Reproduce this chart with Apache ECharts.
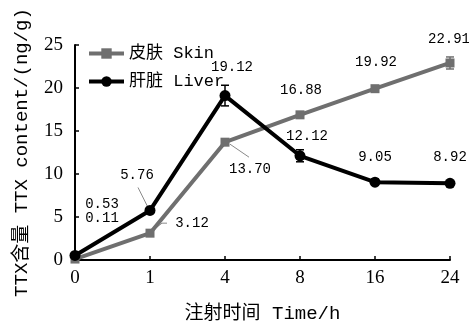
<!DOCTYPE html>
<html>
<head>
<meta charset="utf-8">
<script src="https://cdn.jsdelivr.net/npm/echarts@6/dist/echarts.min.js"></script>
<style>
html,body{margin:0;padding:0;background:#fff;}
#chart{width:469px;height:328px;}
</style>
</head>
<body>
<div id="chart"></div>
<script>
// ---- data ----
const categories = ['0', '1', '4', '8', '16', '24'];
const skinValues = [0.11, 3.12, 13.70, 16.88, 19.92, 22.91];
const liverValues = [0.53, 5.76, 19.12, 12.12, 9.05, 8.92];
const skinErrors = [0, 0, 0, 0, 0, 0.7];
const liverErrors = [0, 0, 1.2, 0.7, 0.35, 0];
const yMin = 0, yMax = 25, yStep = 5;
const seriesNames = ['皮肤 Skin', '肝脏 Liver'];

// ---- layout (pixel offsets of value labels from their points) ----
const skinLabelOffsets = [[27, -41], [42, -10], [25, 27], [1, -25], [1, -26], [-1, -24]];
const liverLabelOffsets = [[27, -51], [-13, -35], [7, -28], [7, -19], [0, -25], [0, -26]];
// leader lines: [series, index, [[dx,dy],...]]
const leaders = [
  [1, 1, [[-2, -3], [-12, -23]]],
  [0, 1, [[3, -3], [12, -10], [17, -10]]],
  [0, 2, [[5, 2], [24, 15]]]
];

const GRAY = '#6f6f6f';
const BLACK = '#000000';
const MONO = '"Liberation Mono", "Noto Sans CJK SC", monospace';
const SERIF = '"Liberation Serif", "Noto Sans CJK SC", serif';

const chart = echarts.init(document.getElementById('chart'));

function errSeries(values, errors, color) {
  return {
    type: 'custom',
    silent: true,
    z: 3,
    data: values.map((v, i) => [i, v, errors[i]]),
    renderItem: function (params, api) {
      const i = api.value(0), v = api.value(1), e = api.value(2);
      if (!e) return null;
      const top = api.coord([i, v + e]);
      const bot = api.coord([i, v - e]);
      const w = 4;
      const st = { stroke: color, lineWidth: 1.5 };
      return {
        type: 'group',
        children: [
          { type: 'line', shape: { x1: top[0], y1: top[1], x2: bot[0], y2: bot[1] }, style: st },
          { type: 'line', shape: { x1: top[0] - w, y1: top[1], x2: top[0] + w, y2: top[1] }, style: st },
          { type: 'line', shape: { x1: bot[0] - w, y1: bot[1], x2: bot[0] + w, y2: bot[1] }, style: st }
        ]
      };
    }
  };
}

const allValues = [skinValues, liverValues];
const leaderSeries = {
  type: 'custom',
  silent: true,
  z: 1,
  data: leaders.map((l, k) => [l[1], allValues[l[0]][l[1]], k]),
  renderItem: function (params, api) {
    const i = api.value(0), v = api.value(1), k = api.value(2);
    const p = api.coord([i, v]);
    const pts = leaders[k][2].map(d => [p[0] + d[0], p[1] + d[1]]);
    return { type: 'polyline', shape: { points: pts }, style: { stroke: '#8a8a8a', lineWidth: 1, fill: null } };
  }
};

function labelOpt() {
  return {
    show: true,
    position: 'inside',
    color: '#000',
    fontFamily: MONO,
    fontSize: 14,
    formatter: p => Number(p.value).toFixed(2)
  };
}

chart.setOption({
  animation: false,
  backgroundColor: '#fff',
  grid: { left: 75, right: 19, top: 45, bottom: 68, containLabel: false },
  legend: {
    orient: 'vertical',
    left: 82,
    top: 40,
    itemWidth: 35,
    itemHeight: 13,
    itemGap: 11,
    lineStyle: { width: 4 },
    textStyle: { fontFamily: MONO, fontSize: 17, color: '#000' },
    data: seriesNames
  },
  xAxis: {
    type: 'category',
    data: categories,
    boundaryGap: false,
    name: '注射时间 Time/h',
    nameLocation: 'middle',
    nameGap: 44,
    nameTextStyle: { fontFamily: MONO, fontSize: 19, color: '#000' },
    axisLine: { lineStyle: { color: '#000', width: 2 } },
    axisTick: { inside: true, length: 4, alignWithLabel: true, lineStyle: { color: '#000', width: 1.5 } },
    axisLabel: { fontFamily: SERIF, fontSize: 19, color: '#000', margin: 9 },
    splitLine: { show: false }
  },
  yAxis: {
    type: 'value',
    min: yMin,
    max: yMax,
    interval: yStep,
    name: 'TTX含量 TTX content/(ng/g)',
    nameLocation: 'middle',
    nameGap: 44,
    nameTextStyle: { fontFamily: MONO, fontSize: 19, color: '#000' },
    axisLine: { show: true, lineStyle: { color: '#000', width: 2 } },
    axisTick: { show: true, inside: true, length: 4, lineStyle: { color: '#000', width: 1.5 } },
    axisLabel: { fontFamily: SERIF, fontSize: 19, color: '#000', margin: 12 },
    splitLine: { show: false }
  },
  series: [
    {
      name: seriesNames[0],
      type: 'line',
      data: skinValues,
      symbol: 'rect',
      symbolSize: 9,
      z: 2,
      lineStyle: { color: GRAY, width: 4 },
      itemStyle: { color: GRAY },
      label: labelOpt(),
      labelLayout: p => ({ dx: skinLabelOffsets[p.dataIndex][0], dy: skinLabelOffsets[p.dataIndex][1] })
    },
    {
      name: seriesNames[1],
      type: 'line',
      data: liverValues,
      symbol: 'circle',
      symbolSize: 11,
      z: 4,
      lineStyle: { color: BLACK, width: 4 },
      itemStyle: { color: BLACK },
      label: labelOpt(),
      labelLayout: p => ({ dx: liverLabelOffsets[p.dataIndex][0], dy: liverLabelOffsets[p.dataIndex][1] })
    },
    errSeries(skinValues, skinErrors, GRAY),
    errSeries(liverValues, liverErrors, BLACK),
    leaderSeries
  ]
});
</script>
</body>
</html>
